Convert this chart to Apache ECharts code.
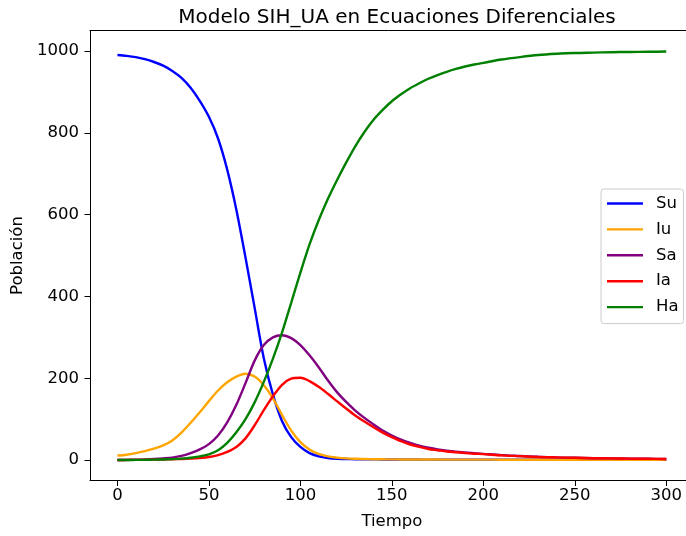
<!DOCTYPE html>
<html>
<head>
<meta charset="utf-8">
<script src="https://cdn.jsdelivr.net/npm/echarts@6/dist/echarts.min.js"></script>
<style>html,body{margin:0;padding:0;background:#fff;}#c{width:686px;height:536px;}</style>
</head>
<body>
<div id="c"></div>
<script>
const tiempo = [0,5,10,15,20,25,30,35,40,45,50,55,60,65,70,75,80,85,90,95,100,105,110,115,120,125,130,135,140,145,150,155,160,165,170,175,180,185,190,195,200,210,220,230,240,250,260,270,280,290,300];
const Su = [990,988,985,980,973,964,951,934,910,878,839,786,710,612,495,372,249,160,95,56,32,17,9,5,3,2.5,2,1.8,1.6,1.5,1.4,1.3,1.2,1.2,1.1,1.1,1,1,1,1,1,0.9,0.9,0.8,0.8,0.8,0.7,0.7,0.7,0.7,0.7];
const Iu = [11,13,17,22,28,36,48,67,91,117,144,170,190,204,211,204,183,151,110,72,44,26,15,9,6,4,3,2.5,2,1.8,1.6,1.5,1.4,1.3,1.2,1.2,1.1,1.1,1,1,1,0.9,0.9,0.8,0.8,0.8,0.7,0.7,0.7,0.7,0.7];
const Sa = [0,0.5,1,1.5,2.5,4,6,10,17,26,39,60,92,135,188,243,281,300,305,298,281,256,227,195,166,142,121,103,87,72,60,50,42,35,30,26,23,20.5,18.5,16.5,15,12,10,8,6.5,5.5,4.5,4,3.5,3,2.5];
const Ia = [0,0.2,0.4,0.6,1,1.3,2,2.5,3.5,5,7.5,12,20,32,53,85,122,156,184,199,201,193,179,162,144,126,109,94,80,67,56,46,38,32,27,24,21,19,17,15.5,14.5,11.5,9.5,7.5,6.5,5.5,4.5,4,3.5,3,2.5];
const Ha = [0,0,0.3,0.6,1,1.5,2.3,3.5,5.5,9,14,24,42,68,100,141,191,248,312,385,458,527,586,638,684,727,767,802,832,856,877,894,909,921,932,941,949,956,962,967,971,979,985,990,993,995,996,997,997.5,998,998.5];
const xTicks = [0,50,100,150,200,250,300];
const yTicks = [0,200,400,600,800,1000];
const seriesNames = ['Su','Iu','Sa','Ia','Ha'];
const seriesValues = [Su,Iu,Sa,Ia,Ha];
const seriesColors = ['#0000ff','#ffa500','#800080','#ff0000','#008000'];

const FONT = 'DejaVu Sans';
const chart = echarts.init(document.getElementById('c'), null, {renderer:'canvas'});
chart.setOption({
  animation:false,
  backgroundColor:'#ffffff',
  title:{
    text:'Modelo SIH_UA en Ecuaciones Diferenciales',
    left:392, top:3, textAlign:'center',
    textStyle:{fontFamily:FONT,fontSize:20,fontWeight:'normal',color:'#000'}
  },
  grid:{left:90,top:30.5,width:603.7,height:450,outerBoundsMode:'none',show:false,containLabel:false},
  legend:{
    orient:'vertical', left:601, top:189,
    data:seriesNames,
    icon:'rect', itemWidth:36, itemHeight:2.4, itemGap:8.9,
    padding:[6,5,8,6],
    backgroundColor:'rgba(255,255,255,0.8)', borderColor:'#cccccc', borderWidth:1, borderRadius:3,
    textStyle:{fontFamily:FONT,fontSize:16.5,color:'#000',padding:[0,0,0,8],lineHeight:16.5}
  },
  xAxis:[{
    type:'value', min:-15, max:315, position:'bottom',
    name:'Tiempo', nameLocation:'middle', nameGap:33,
    nameTextStyle:{fontFamily:FONT,fontSize:16.5,color:'#000'},
    axisLine:{show:true,onZero:false,lineStyle:{color:'#000',width:1}},
    axisTick:{show:true,length:5.5,customValues:xTicks,lineStyle:{color:'#000',width:1}},
    axisLabel:{customValues:xTicks,margin:7,fontFamily:FONT,fontSize:16.5,color:'#000',formatter:v=>String(v)},
    splitLine:{show:false}
  },{
    type:'value', min:-15, max:315, position:'top',
    axisLine:{show:true,onZero:false,lineStyle:{color:'#000',width:1}},
    axisTick:{show:false}, axisLabel:{show:false}, splitLine:{show:false}
  }],
  yAxis:{
    type:'value', min:-50, max:1050,
    name:'Población', nameLocation:'middle', nameGap:61, nameRotate:90,
    nameTextStyle:{fontFamily:FONT,fontSize:16.5,color:'#000'},
    axisLine:{show:true,onZero:false,lineStyle:{color:'#000',width:1}},
    axisTick:{show:true,length:5.5,customValues:yTicks,lineStyle:{color:'#000',width:1}},
    axisLabel:{customValues:yTicks,margin:11,fontFamily:FONT,fontSize:16.5,color:'#000',formatter:v=>String(v)},
    splitLine:{show:false}
  },
  series:seriesNames.map((n,i)=>({
    name:n, type:'line', showSymbol:false, smooth:0.3, xAxisIndex:0,
    data:tiempo.map((t,j)=>[t,seriesValues[i][j]]),
    lineStyle:{color:seriesColors[i],width:2.4},
    itemStyle:{color:seriesColors[i]},
    emphasis:{disabled:true}
  }))
});
</script>
</body>
</html>
